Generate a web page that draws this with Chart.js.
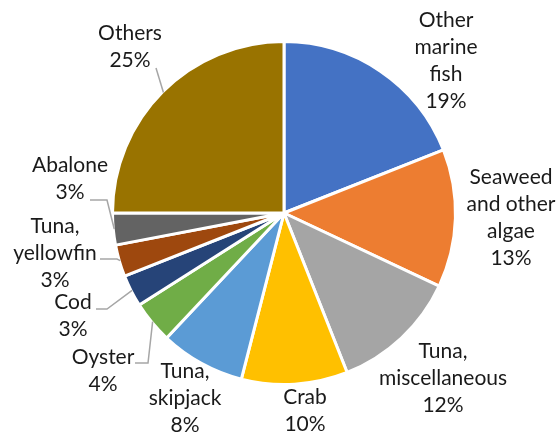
<!DOCTYPE html>
<html lang="en">
<head>
<meta charset="UTF-8">
<title>Share by species</title>
<script src="https://cdn.jsdelivr.net/npm/chart.js@4.4.1/dist/chart.umd.min.js"></script>
<style>
  body { margin: 0; background: #fff; }
  #wrap { width: 558px; height: 436px; }
</style>
</head>
<body>
<div id="wrap"><canvas id="pie" width="558" height="436"></canvas></div>
<script>
// Species, in clockwise order from 12 o'clock
const species = [
  ['Other', 'marine', 'fish'],
  ['Seaweed', 'and other', 'algae'],
  ['Tuna,', 'miscellaneous'],
  ['Crab'],
  ['Tuna,', 'skipjack'],
  ['Oyster'],
  ['Cod'],
  ['Tuna,', 'yellowfin'],
  ['Abalone'],
  ['Others']
];
const shares = [19, 13, 12, 10, 8, 4, 3, 3, 3, 25];
const sliceColours = ['#4472C4', '#ED7D31', '#A5A5A5', '#FFC000', '#5B9BD5',
                      '#70AD47', '#264478', '#9E480E', '#636363', '#997300'];

// where each label block sits, offset from the pie centre (px)
const labelOffsets = [[162, -152], [227, 5], [159, 165], [21, 198], [-99, 185],
                      [-181, 158], [-211, 103], [-229, 40], [-214, -34], [-154, -166]];
// leader lines: a short horizontal run [x0, x1, y] (from pie centre), then into the slice
const leaders = [null, null, null, null, null,
                 [-149, -136, 150], [-188, -177, 96], [-184, -167, 46], [-194, -177, -13], [-128, -128, -145]];

const LINE_H = 27;
const FONT = '21px Lato, "Noto Sans", sans-serif';

const outsideLabels = {
  id: 'outsideLabels',
  afterDatasetsDraw(chart) {
    const ctx = chart.ctx;
    const arcs = chart.getDatasetMeta(0).data;
    ctx.save();
    arcs.forEach((arc, i) => {
      const p = arc.getProps(['x', 'y', 'startAngle', 'endAngle', 'outerRadius'], true);
      const mid = (p.startAngle + p.endAngle) / 2;
      const lead = leaders[i];
      if (lead) {
        ctx.strokeStyle = '#A6A6A6';
        ctx.lineWidth = 1.5;
        ctx.beginPath();
        ctx.moveTo(p.x + lead[0], p.y + lead[2]);
        ctx.lineTo(p.x + lead[1], p.y + lead[2]);
        ctx.lineTo(p.x + Math.cos(mid) * (p.outerRadius - 1), p.y + Math.sin(mid) * (p.outerRadius - 1));
        ctx.stroke();
      }
      const lines = species[i].concat([shares[i] + '%']);
      const cx = p.x + labelOffsets[i][0];
      const cy = p.y + labelOffsets[i][1];
      const top = cy - (lines.length - 1) * LINE_H / 2;
      ctx.fillStyle = '#1a1a1a';
      ctx.font = FONT;
      ctx.textAlign = 'center';
      ctx.textBaseline = 'middle';
      lines.forEach((t, k) => ctx.fillText(t, cx, top + k * LINE_H));
    });
    ctx.restore();
  }
};

new Chart(document.getElementById('pie'), {
  type: 'pie',
  data: {
    labels: species,
    datasets: [{
      data: shares,
      backgroundColor: sliceColours,
      borderColor: '#ffffff',
      borderWidth: 3
    }]
  },
  options: {
    responsive: false,
    animation: false,
    layout: { padding: { top: 40, bottom: 50, left: 100, right: 90 } },
    plugins: {
      legend: { display: false },
      tooltip: { enabled: false }
    }
  },
  plugins: [outsideLabels]
});
</script>
</body>
</html>
